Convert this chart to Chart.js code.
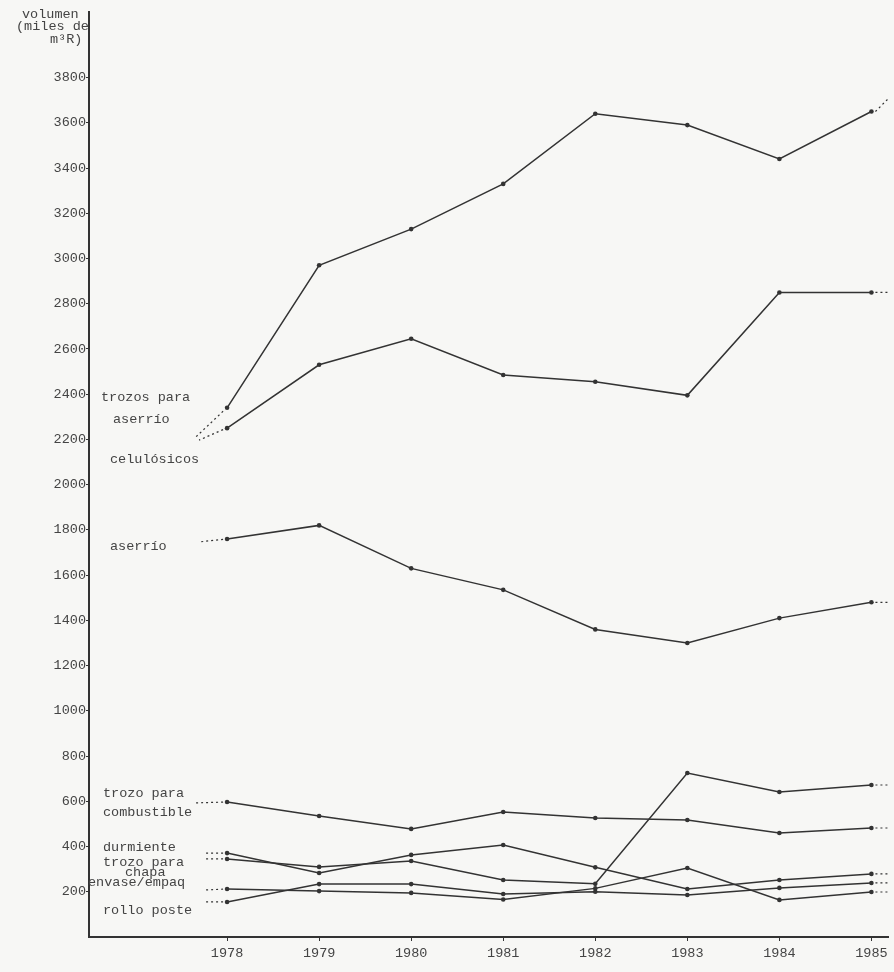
<!DOCTYPE html>
<html>
<head>
<meta charset="utf-8">
<script src="https://cdn.jsdelivr.net/npm/chart.js@4.4.1/dist/chart.umd.min.js"></script>
<style>
  html, body { margin: 0; padding: 0; background: #f7f7f5; }
  #wrap { width: 894px; height: 972px; }
</style>
</head>
<body>
<div id="wrap"><canvas id="myChart" width="894" height="972"></canvas></div>
<script>
// years on the x axis
const years = [1978, 1979, 1980, 1981, 1982, 1983, 1984, 1985];
const yTicks = [200, 400, 600, 800, 1000, 1200, 1400, 1600, 1800, 2000, 2200, 2400, 2600, 2800, 3000, 3200, 3400, 3600, 3800];

// volumes (miles de m3R)
const trozosAserrio = [2340, 2970, 3130, 3330, 3640, 3590, 3440, 3650];
const celulosicos   = [2250, 2530, 2645, 2485, 2455, 2395, 2850, 2850];
const aserrio       = [1760, 1820, 1630, 1535, 1360, 1300, 1410, 1480];
const combustible   = [597, 535, 478, 553, 526, 517, 460, 482];
const durmiente     = [371, 283, 363, 407, 308, 212, 252, 279];
const chapa         = [345, 310, 336, 252, 235, 725, 641, 672];
const envase        = [212, 203, 195, 166, 215, 305, 164, 199];
const rolloPoste    = [155, 234, 234, 190, 200, 186, 217, 239];

const seriesList = [trozosAserrio, celulosicos, aserrio, combustible, durmiente, chapa, envase, rolloPoste];

// dotted leader lines: dx/dy from the first point, and tail after the last point
const leaders = [
  { dx: -31, dy: 29, tx: 16, ty: -12 },
  { dx: -28, dy: 12, tx: 16, ty: 0 },
  { dx: -28, dy: 3,  tx: 16, ty: 0 },
  { dx: -33, dy: 1,  tx: 16, ty: 0 },
  { dx: -23, dy: 0,  tx: 16, ty: 0 },
  { dx: -23, dy: 0,  tx: 16, ty: 0 },
  { dx: -23, dy: 1,  tx: 16, ty: 0 },
  { dx: -23, dy: 0,  tx: 16, ty: 0 }
];

// text labels written on the chart
const notes = [
  { text: 'trozos para', x: 101, y: 401 },
  { text: 'aserrío', x: 113, y: 423 },
  { text: 'celulósicos', x: 110, y: 463 },
  { text: 'aserrío', x: 110, y: 550 },
  { text: 'trozo para', x: 103, y: 797 },
  { text: 'combustible', x: 103, y: 816 },
  { text: 'durmiente', x: 103, y: 851 },
  { text: 'trozo para', x: 103, y: 866 },
  { text: 'chapa', x: 125, y: 876 },
  { text: 'envase/empaq', x: 88, y: 886 },
  { text: 'rollo poste', x: 103, y: 914 },
  { text: 'volumen', x: 22, y: 18 },
  { text: '(miles de', x: 16, y: 30 },
  { text: 'm³R)', x: 50, y: 43 }
];

const ink = '#333';
const textInk = '#444';
const mono = '"Liberation Mono", "DejaVu Sans Mono", monospace';

const extras = {
  id: 'extras',
  beforeDraw(chart) {
    const ctx = chart.ctx;
    ctx.save();
    ctx.fillStyle = '#f7f7f5';
    ctx.fillRect(0, 0, chart.width, chart.height);
    ctx.restore();
  },
  afterDatasetsDraw(chart) {
    const ctx = chart.ctx;
    ctx.save();
    ctx.strokeStyle = ink;
    ctx.lineWidth = 1.2;
    ctx.setLineDash([2, 3]);
    chart.data.datasets.forEach((ds, i) => {
      const pts = chart.getDatasetMeta(i).data;
      const first = pts[0], last = pts[pts.length - 1];
      const l = leaders[i];
      ctx.beginPath();
      ctx.moveTo(first.x - 4, first.y + l.dy * 0.12);
      ctx.lineTo(first.x + l.dx, first.y + l.dy);
      ctx.moveTo(last.x + 4, last.y);
      ctx.lineTo(last.x + l.tx, last.y + l.ty);
      ctx.stroke();
    });
    ctx.setLineDash([]);
    ctx.fillStyle = textInk;
    ctx.font = '13.5px ' + mono;
    ctx.textBaseline = 'alphabetic';
    notes.forEach(n => ctx.fillText(n.text, n.x, n.y));
    ctx.restore();
  }
};

const ctx = document.getElementById('myChart').getContext('2d');
const myChart = new Chart(ctx, {
  type: 'line',
  data: {
    datasets: seriesList.map(vals => ({
      data: years.map((yr, k) => ({ x: yr, y: vals[k] })),
      borderColor: ink,
      backgroundColor: ink,
      borderWidth: 1.5,
      pointRadius: 2.3,
      pointBorderWidth: 0,
      tension: 0,
      fill: false
    }))
  },
  options: {
    responsive: false,
    animation: false,
    layout: { padding: { left: 0, top: 12, right: 6, bottom: 0 } },
    plugins: { legend: { display: false }, tooltip: { enabled: false } },
    scales: {
      x: {
        type: 'linear',
        min: 1976.5,
        max: 1985.18,
        afterBuildTicks: scale => { scale.ticks = years.map(v => ({ value: v })); },
        afterFit: scale => { scale.height = 35; },
        border: { display: true, color: ink, width: 2 },
        grid: { display: true, drawOnChartArea: false, tickLength: 4, color: ink },
        ticks: {
          color: textInk,
          font: { family: mono, size: 13.5 },
          padding: 4,
          maxRotation: 0,
          callback: v => String(v)
        }
      },
      y: {
        type: 'linear',
        min: 0,
        max: 4090,
        afterBuildTicks: scale => { scale.ticks = yTicks.map(v => ({ value: v })); },
        afterFit: scale => { scale.width = 89; },
        border: { display: true, color: ink, width: 2 },
        grid: { display: true, drawOnChartArea: false, tickLength: 3, color: ink },
        ticks: {
          color: textInk,
          font: { family: mono, size: 13.5 },
          padding: 0,
          callback: v => String(v)
        }
      }
    }
  },
  plugins: [extras]
});
</script>
</body>
</html>
